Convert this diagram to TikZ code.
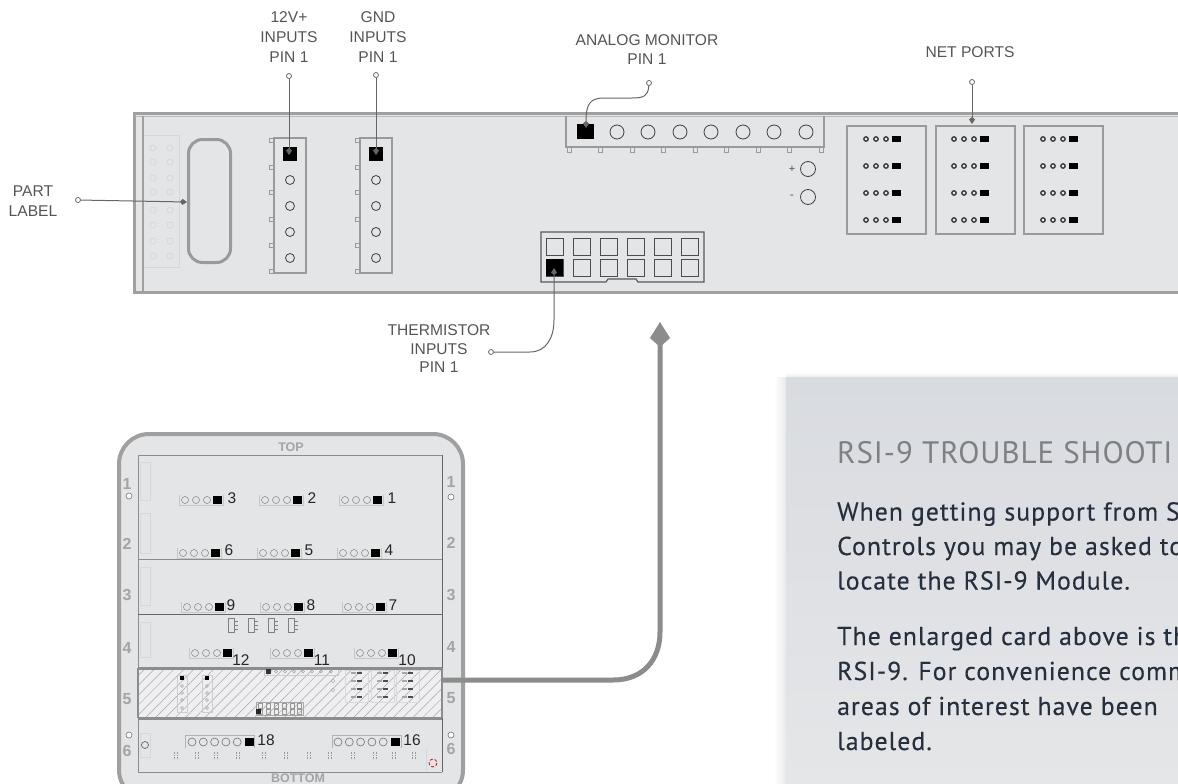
\documentclass[tikz,border=0pt]{standalone}
\usepackage{fontspec}
\usetikzlibrary{arrows.meta,patterns.meta}
\setmainfont{Liberation Sans}
\newfontfamily\panelfont[LetterSpace=4,FakeBold=0.25]{PT Sans}
\newfontfamily\panelhead[LetterSpace=3]{PT Sans}
\definecolor{boardfill}{HTML}{E4E5E7}
\definecolor{boardline}{HTML}{A0A0A0}
\definecolor{partline}{HTML}{9A9A9A}
\definecolor{faintline}{HTML}{D6D7D9}
\definecolor{leadline}{HTML}{666666}
\definecolor{labeltext}{HTML}{555555}
\definecolor{sidetext}{HTML}{A3A4A6}
\definecolor{panelink}{HTML}{262F3D}
\definecolor{paneltitle}{HTML}{7E8083}
\definecolor{paneltopfill}{HTML}{D8DBE0}
\definecolor{panellowfill}{HTML}{E5E6E8}
\tikzset{
  calllabel/.style={font=\fontsize{15.6}{20}\selectfont,text=labeltext,align=center,inner sep=0pt},
  ring/.style={circle,draw=leadline,fill=white,line width=0.8pt,minimum size=5pt,inner sep=0pt},
  lead/.style={draw=leadline,line width=1pt,-{Kite[length=7pt,width=6pt,inset=2.5pt]}},
  bigarrow/.style={draw=black!45,line width=5pt,-{Kite[length=25pt,width=20pt,inset=9pt]}},
  pinsq/.style={fill=black,inner sep=0pt,minimum size=#1},
  pinhole/.style={draw=black!75,line width=0.8pt},
  sidenum/.style={font=\fontsize{16}{16}\bfseries\selectfont,text=sidetext,inner sep=0pt},
  portnum/.style={font=\fontsize{15.5}{16}\selectfont,text=black!85,inner sep=0pt},
  panelline/.style={font=\panelfont\fontsize{25.8}{28}\selectfont,text=panelink,anchor=base west,inner sep=0pt},
  paneltop/.style={font=\panelhead\fontsize{31}{36}\selectfont,text=paneltitle,anchor=base west,inner sep=0pt}
}
\begin{document}
\begin{tikzpicture}[x=1pt,y=-1pt]
\useasboundingbox (0,0) rectangle (1178,784);
\clip (0,0) rectangle (1178,784);
\draw [fill=boardfill,draw=boardline,line width=3pt] (134,113) rectangle (1190,292);
\draw [boardline!70,line width=1pt] (135,116.5) -- (1178,116.5);
\draw [boardline,line width=1.2pt] (143,116) -- (143,291);
\draw [faintline,line width=0.7pt] (144,135) -- (179,135) -- (179,267) -- (144,267);
\foreach \cy in {148,162,178,192,210,225,241,256} {
  \draw [faintline,line width=0.8pt] (153,\cy) circle (3);
  \draw [faintline,line width=0.8pt] (170,\cy) circle (3);
}
\node (partpill) [draw=partline,line width=3pt,rounded corners=14pt,minimum width=42pt,minimum height=123pt,inner sep=0pt] at (209.5,201) {};
\foreach \ox/\pname in {0/pinVolt,86/pinGnd} {
  \foreach \ty in {140,167,192,219,245,271}
    \draw [partline,line width=1pt] (269+\ox,\ty-2) rectangle (274+\ox,\ty+2);
  \draw [partline,line width=1.2pt] (274+\ox,138) rectangle (306+\ox,273);
  \foreach \cy in {180,206,232,258}
    \draw [pinhole] (290+\ox,\cy) circle (4.5);
  \node (\pname) [pinsq=14.5pt] at (290+\ox,154) {};
}
\draw [partline,line width=1.2pt] (566,116) -- (566,147) -- (824,147) -- (824,116);
\foreach \tx in {569,600,632,663,695,726,758,789,821}
  \draw [partline,line width=1pt] (\tx-2,147) rectangle (\tx+2,152);
\node (pinAnalog) [pinsq=15pt,minimum width=17pt] at (585.5,131.5) {};
\foreach \cx in {617,648,680,711,743,774,806}
  \draw [pinhole] (\cx,132) circle (7);
\draw [pinhole] (808,169) circle (7.5);
\draw [pinhole] (808,197) circle (7.5);
\node (plusSign) [font=\fontsize{11}{11}\selectfont,text=black!70,inner sep=0pt] at (792,169) {+};
\node (minusSign) [font=\fontsize{11}{11}\selectfont,text=black!70,inner sep=0pt] at (792,197) {-};
\draw [black!65,line width=1.2pt] (541,232) -- (704,232) -- (704,282) -- (638,282) -- (636,279) -- (608,279) -- (606,282) -- (541,282) -- cycle;
\foreach \sx in {546,573,600,627,654,681} {
  \draw [black!70,line width=0.9pt] (\sx,238) rectangle (\sx+17,255);
  \draw [black!70,line width=0.9pt] (\sx,259) rectangle (\sx+17,276);
}
\node (pinTherm) [pinsq=17pt] at (554.5,267.5) {};
\foreach \bx/\hx in {847/866,936/954,1024/1043} {
  \draw [partline,line width=1.2pt] (\bx,126) rectangle (\bx+79,234);
  \foreach \ry in {139,166,193,220} {
    \foreach \kx in {0,10,20}
      \draw [black!80,line width=1.3pt] (\hx+\kx,\ry) circle (2.2);
    \fill [black] (\hx+26,\ry-3) rectangle (\hx+35,\ry+3);
  }
}
\coordinate (netTip) at (972,124);
\coordinate (partTip) at (187,202);
\node (textVolt) [calllabel] at (289,37.5) {12V+\\INPUTS\\PIN 1};
\node (textGnd) [calllabel] at (378,37.5) {GND\\INPUTS\\PIN 1};
\node (textAnalog) [calllabel,font=\fontsize{15.6}{19}\selectfont] at (647,50) {ANALOG MONITOR\\PIN 1};
\node (textNet) [calllabel] at (970,52) {NET PORTS};
\node (textPart) [calllabel] at (33,201) {PART\\LABEL};
\node (textTherm) [calllabel,font=\fontsize{15.6}{18.5}\selectfont] at (439,349) {THERMISTOR\\INPUTS\\PIN 1};
\node (ringVolt) [ring] at (289,76) {};
\node (ringGnd) [ring] at (376,75) {};
\node (ringAnalog) [ring] at (649,83) {};
\node (ringNet) [ring] at (972,82) {};
\node (ringPart) [ring] at (78,200) {};
\node (ringTherm) [ring] at (491,352) {};
\coordinate (tipVolt) at (289,155);
\coordinate (tipGnd) at (376,155);
\coordinate (tipAnalog) at (586,128);
\coordinate (tipTherm) at (554,268);
\draw [lead] (ringVolt) -- (tipVolt);
\draw [lead] (ringGnd) -- (tipGnd);
\draw [lead] (ringNet) -- (netTip);
\draw [lead] (ringPart) -- (partTip);
\draw [lead] (ringAnalog) .. controls (648,96) and (644,98) .. (632,98) -- (604,98) .. controls (590,98) and (586,104) .. (tipAnalog);
\draw [lead] (ringTherm) -- (530,352) .. controls (546,352) and (554,338) .. (554,320) -- (tipTherm);
\draw [fill=boardfill,draw=boardline,line width=4pt,rounded corners=30pt] (119,434) rectangle (463,800);
\node (topWord) [font=\fontsize{12.5}{13}\bfseries\selectfont,text=sidetext,inner sep=0pt] at (291,447) {TOP};
\node (bottomWord) [font=\fontsize{12.5}{13}\bfseries\selectfont,text=sidetext,inner sep=0pt] at (298,778) {BOTTOM};
\draw [black!45,line width=1pt] (138,455) -- (442,455);
\draw [black!45,line width=1pt] (138,772) -- (442,772);
\draw [black!45,line width=1pt] (138,455) -- (138,772);
\draw [black!60,line width=1pt] (442,455) -- (442,772);
\draw [black!45,line width=0.8pt] (138,559) -- (442,559);
\draw [black!60,line width=0.8pt] (138,614) -- (442,614);
\foreach \sy/\sh in {462/500,513/553,567/605,622/657,733/757}
  \draw [faintline,line width=0.6pt] (140,\sy) rectangle (150,\sh);
\foreach \sv/\ly/\ry in {1/484/482,2/544/543,3/595/595,4/648/647,5/699/698,6/751/749} {
  \node (left\sv) [sidenum] at (127,\ly) {\sv};
  \node (right\sv) [sidenum] at (451,\ry) {\sv};
}
\foreach \hx/\hy in {129/496,451/497,129/735,451/735}
  \draw [black!55,fill=white,line width=0.6pt] (\hx,\hy) circle (3);
\draw [black!60,line width=0.7pt] (145,745) circle (3.5);
\foreach \px/\py/\pn/\lx/\ly in {179/500/3/232/498,259/500/2/312/498,339/500/1/392/498,177/553/6/229/550,257/553/5/309/550,337/553/4/389/550,181/607/9/231/605,260/607/8/311/605,342/607/7/393/605,189/653/12/241/660,270/653/11/322/660,354/653/10/407/660} {
  \draw [black!22,line width=0.6pt] (\px,\py-5.5) -- (\px,\py+5.5) -- (\px+44,\py+5.5) -- (\px+44,\py-5.5);
  \foreach \kx in {6,17,28}
    \draw [black!50,line width=0.5pt] (\px+\kx,\py) circle (3.5);
  \fill [black] (\px+34,\py-4) rectangle (\px+43,\py+4);
  \node (port\pn) [portnum] at (\lx,\ly) {\pn};
}
\foreach \rx in {233,253,273,293} {
  \draw [black!50,line width=0.5pt] (\rx-5,618) rectangle (\rx+1,632);
  \draw [black!50,line width=0.5pt] (\rx+1,621) -- (\rx+5,621) (\rx+1,625) -- (\rx+5,625) (\rx+1,629) -- (\rx+5,629);
}
\fill [boardfill!60!white] (138,668) rectangle (442,718);
\fill [pattern={Lines[angle=45,distance=7pt,line width=0.5pt]},pattern color=black!35] (138,668) rectangle (442,718);
\draw [black!45,line width=1.5pt] (138,668) -- (138,718);
\draw [black!45,line width=1.5pt] (442,668) -- (442,718);
\draw [black!45,line width=3pt] (138,668) -- (442,668);
\draw [black!45,line width=3pt] (138,718) -- (442,718);
\foreach \mx in {182,207} {
  \draw [black!20,line width=0.4pt] (\mx-5,675) rectangle (\mx+5,712);
  \fill [black] (\mx-2,676) rectangle (\mx+2,680);
  \foreach \my in {686,693,700,708}
    \draw [black!35,line width=0.4pt] (\mx,\my) circle (1.5);
}
\draw [black!20,line width=0.4pt] (264,670) -- (264,675) -- (338,675) -- (338,670);
\fill [black!80] (266,669) rectangle (271,674);
\foreach \mx in {276,285,294,303,312,321,331}
  \draw [black!35,line width=0.4pt] (\mx,671.5) circle (1.5);
\draw [black!35,line width=0.4pt] (333,681) circle (1.8);
\draw [black!35,line width=0.4pt] (333,690) circle (1.8);
\foreach \nx in {345,371,396} {
  \draw [black!15,line width=0.4pt] (\nx,670) rectangle (\nx+23,702);
  \foreach \my in {673,681,689,697} {
    \fill [black!35] (\nx+6,\my-0.7) rectangle (\nx+11,\my+0.7);
    \fill [black!70] (\nx+12,\my-0.7) rectangle (\nx+17,\my+0.7);
  }
}
\draw [black!35,line width=0.4pt] (256,702) rectangle (303,715);
\foreach \mx in {258,266,274,282,290,297} {
  \draw [black!40,line width=0.4pt] (\mx,703) rectangle (\mx+4.5,708);
  \draw [black!40,line width=0.4pt] (\mx,709) rectangle (\mx+4.5,714);
}
\fill [black!85] (256,708.5) rectangle (261,713.5);
\foreach \cx/\sx/\cn/\lx in {185/192/18/266,332/338/16/412} {
  \draw [black!30,line width=0.5pt] (\cx,748) -- (\cx,735) -- (\cx+69,735) -- (\cx+69,748);
  \foreach \kx in {0,11.3,22.6,33.9,45.2}
    \draw [black!55,line width=0.6pt] (\sx+\kx,742) circle (4);
  \fill [black] (\sx+53,738) rectangle (\sx+61.5,746);
  \node (port\cn) [portnum] at (\lx,740) {\cn};
}
\foreach \tx in {176,197,216,238,264,286,309,330,353,375,394,414}
  \foreach \ty in {753,755.5,758} {
    \fill [black!40] (\tx-2,\ty-0.6) rectangle (\tx-0.7,\ty+0.6);
    \fill [black!40] (\tx+0.7,\ty-0.6) rectangle (\tx+2,\ty+0.6);
  }
\draw [faintline,line width=0.6pt] (426,749) -- (426,771);
\draw [red!85!black,line width=0.8pt,densely dashed] (433,763) circle (4);
\coordinate (cardExit) at (442,680);
\coordinate (bigTip) at (660,322);
\draw [bigarrow] (cardExit) -- (613,680) .. controls (643,680) and (660,660) .. (660,632) -- (bigTip);
\shade [left color=white,right color=black!9] (774,377) rectangle (786,784);
\shade [top color=white,bottom color=black!7] (786,372) rectangle (1178,377);
\shade [top color=paneltopfill,bottom color=panellowfill] (786,377) rectangle (1178,784);
\node (panelHead) [paneltop] at (837,463) {RSI-9 TROUBLE SHOOTI};
\node (lineA) [panelline] at (837,520.5) {When getting support from S};
\node (lineB) [panelline] at (837,555) {Controls you may be asked to};
\node (lineC) [panelline] at (837,589.5) {locate the RSI-9 Module.};
\node (lineD) [panelline] at (837,645) {The enlarged card above is th};
\node (lineE) [panelline] at (837,680) {RSI-9. For convenience comm};
\node (lineF) [panelline] at (837,715) {areas of interest have been};
\node (lineG) [panelline] at (837,750) {labeled.};
\end{tikzpicture}
\end{document}
